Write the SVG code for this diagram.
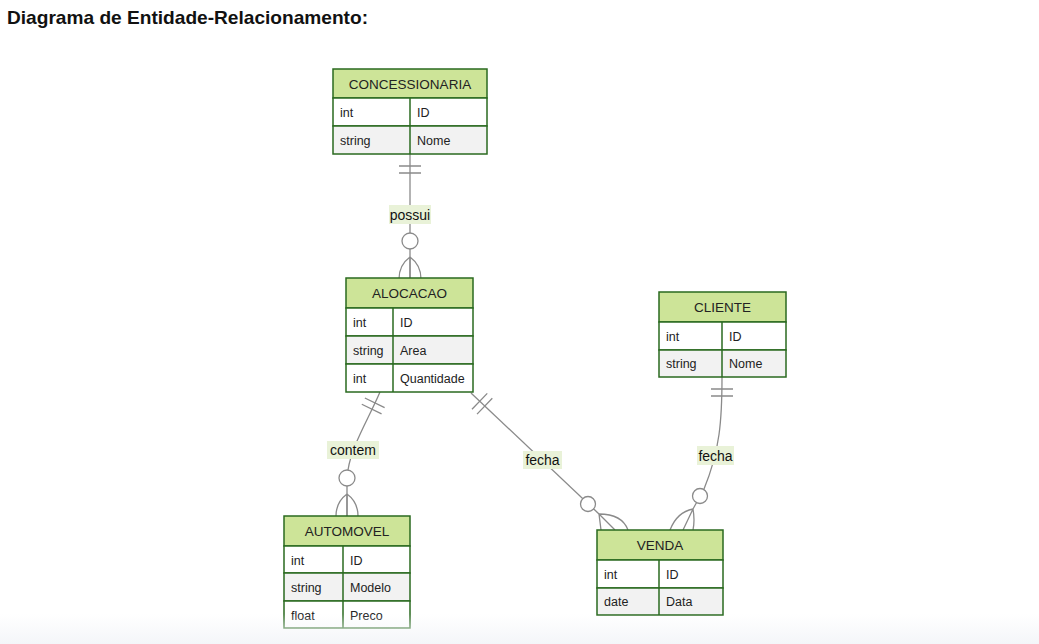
<svg xmlns="http://www.w3.org/2000/svg" width="1039" height="644" viewBox="0 0 1039 644">
<style>
.hdr{fill:#cde498;stroke:#2a6a1f;stroke-width:1.5}
.odd{fill:#ffffff;stroke:#2a6a1f;stroke-width:1.5}
.even{fill:#f2f2f2;stroke:#2a6a1f;stroke-width:1.5}
.div{stroke:#2a6a1f;stroke-width:1.5}
.ht{font-family:"Liberation Sans",Arial,sans-serif;font-size:13.5px;fill:#222;text-anchor:middle}
.rt{font-family:"Liberation Sans",Arial,sans-serif;font-size:12.5px;fill:#222}
.ln{fill:none;stroke:#8a8a8a;stroke-width:1.3}
.circ{fill:#ffffff;stroke:#8a8a8a;stroke-width:1.3}
.lbg{fill:#e9f2d8}
.lt{font-family:"Liberation Sans",Arial,sans-serif;font-size:14px;fill:#111;text-anchor:middle}
.title{font-family:"Liberation Sans",Arial,sans-serif;font-size:18.5px;font-weight:bold;fill:#111}
</style>
<defs>
<g id="oneBars">
<path class="ln" d="M-11,12 H11 M-11,19 H11"/>
</g>
<g id="footV">
<path class="ln" d="M0,-22 Q-11,-14 -11,0 M0,-22 V0 M0,-22 Q11,-14 11,0"/>
</g>
<linearGradient id="fade" x1="0" y1="0" x2="0" y2="1">
<stop offset="0" stop-color="#f4f6f9" stop-opacity="0"/>
<stop offset="1" stop-color="#f4f6f9" stop-opacity="1"/>
</linearGradient>
</defs>
<rect x="0" y="0" width="1039" height="644" fill="#ffffff"/>
<text class="title" x="7" y="24" textLength="361" lengthAdjust="spacingAndGlyphs">Diagrama de Entidade-Relacionamento:</text>

<g id="connectors">
<path class="ln" d="M410,154 V279"/>
<use href="#oneBars" transform="translate(410,154)"/>
<use href="#footV" transform="translate(410,279)"/>
<circle class="circ" cx="410" cy="241" r="8"/>
<path class="ln" d="M380,392 C368,420 352,445 348,470 M347,486 V516"/>
<use href="#oneBars" transform="translate(380,392) rotate(26)"/>
<use href="#footV" transform="translate(347,516)"/>
<circle class="circ" cx="347" cy="478" r="8"/>
<path class="ln" d="M471,393 L599,514"/>
<use href="#oneBars" transform="translate(471,393) rotate(-46)"/>
<path class="ln" d="M599,514 Q600,522 601,530 M599,514 L615,530 M599,514 Q622,514 628,530"/>
<circle class="circ" cx="588" cy="504" r="7.5"/>
<path class="ln" d="M722,377 C722,420 720,450 704,489 L693,509"/>
<use href="#oneBars" transform="translate(722,377)"/>
<path class="ln" d="M693,509 Q677,512 670,530 M693,509 L683,530 M693,509 Q695,520 693,530"/>
<circle class="circ" cx="700" cy="496" r="7.5"/>
<rect class="lbg" x="389" y="205" width="42" height="19"/>
<text class="lt" x="410" y="219.5">possui</text>
<rect class="lbg" x="327" y="441" width="52" height="18"/>
<text class="lt" x="353" y="455">contem</text>
<rect class="lbg" x="523" y="451" width="39" height="18"/>
<text class="lt" x="542.5" y="465">fecha</text>
<rect class="lbg" x="697" y="446" width="37" height="19"/>
<text class="lt" x="715.5" y="460.5">fecha</text>
</g>

<g id="CONCESSIONARIA">
<rect class="hdr" x="333" y="69" width="154" height="29"/>
<rect class="odd" x="333" y="98" width="154" height="28"/>
<rect class="even" x="333" y="126" width="154" height="28"/>
<line class="div" x1="410" y1="98" x2="410" y2="154"/>
<text class="ht" x="410" y="88.5">CONCESSIONARIA</text>
<text class="rt" x="340" y="116.5">int</text><text class="rt" x="417" y="116.5">ID</text>
<text class="rt" x="340" y="144.5">string</text><text class="rt" x="417" y="144.5">Nome</text>
</g>

<g id="ALOCACAO">
<rect class="hdr" x="346" y="278" width="127" height="30"/>
<rect class="odd" x="346" y="308" width="127" height="28"/>
<rect class="even" x="346" y="336" width="127" height="28"/>
<rect class="odd" x="346" y="364" width="127" height="28"/>
<line class="div" x1="393" y1="308" x2="393" y2="392"/>
<text class="ht" x="409.5" y="298">ALOCACAO</text>
<text class="rt" x="353" y="326.5">int</text><text class="rt" x="400" y="326.5">ID</text>
<text class="rt" x="353" y="354.5">string</text><text class="rt" x="400" y="354.5">Area</text>
<text class="rt" x="353" y="382.5">int</text><text class="rt" x="400" y="382.5">Quantidade</text>
</g>

<g id="CLIENTE">
<rect class="hdr" x="659" y="292" width="127" height="30"/>
<rect class="odd" x="659" y="322" width="127" height="28"/>
<rect class="even" x="659" y="350" width="127" height="27"/>
<line class="div" x1="722" y1="322" x2="722" y2="377"/>
<text class="ht" x="722.5" y="312">CLIENTE</text>
<text class="rt" x="666" y="340.5">int</text><text class="rt" x="729" y="340.5">ID</text>
<text class="rt" x="666" y="367.5">string</text><text class="rt" x="729" y="367.5">Nome</text>
</g>

<g id="AUTOMOVEL">
<rect class="hdr" x="284" y="516" width="126" height="30"/>
<rect class="odd" x="284" y="546" width="126" height="27"/>
<rect class="even" x="284" y="573" width="126" height="28"/>
<rect class="odd" x="284" y="601" width="126" height="27"/>
<line class="div" x1="343" y1="546" x2="343" y2="628"/>
<text class="ht" x="347" y="535.5">AUTOMOVEL</text>
<text class="rt" x="291" y="564.5">int</text><text class="rt" x="350" y="564.5">ID</text>
<text class="rt" x="291" y="591.5">string</text><text class="rt" x="350" y="591.5">Modelo</text>
<text class="rt" x="291" y="619.5">float</text><text class="rt" x="350" y="619.5">Preco</text>
</g>

<g id="VENDA">
<rect class="hdr" x="597" y="530" width="126" height="30"/>
<rect class="odd" x="597" y="560" width="126" height="28"/>
<rect class="even" x="597" y="588" width="126" height="27"/>
<line class="div" x1="659" y1="560" x2="659" y2="615"/>
<text class="ht" x="660" y="549.5">VENDA</text>
<text class="rt" x="604" y="578.5">int</text><text class="rt" x="666" y="578.5">ID</text>
<text class="rt" x="604" y="605.5">date</text><text class="rt" x="666" y="605.5">Data</text>
</g>

<rect x="0" y="614" width="1039" height="30" fill="url(#fade)"/>
</svg>
